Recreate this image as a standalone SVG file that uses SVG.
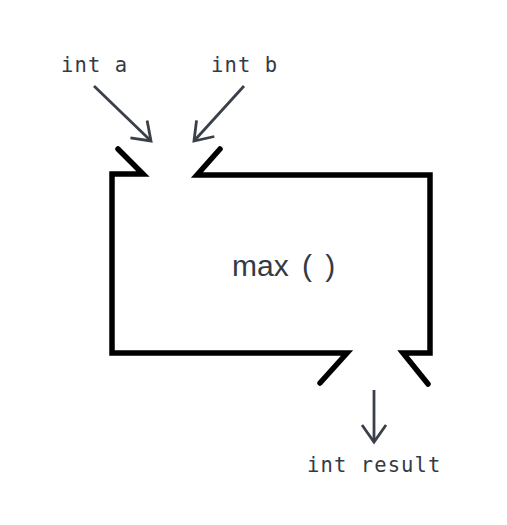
<svg xmlns="http://www.w3.org/2000/svg" width="507" height="525" viewBox="0 0 507 525">
<style>
.box{fill:none;stroke:#000;stroke-width:5.5;stroke-linejoin:miter;stroke-linecap:round}
.arr{fill:none;stroke:#3a404a;stroke-width:2.8;stroke-linecap:butt}
.mono{font-family:"DejaVu Sans Mono","Liberation Mono",monospace;font-size:20.5px;letter-spacing:1.1px;fill:#333a44}
.sans{font-family:"Liberation Sans",Arial,sans-serif;font-size:30px;word-spacing:5px;fill:#333a44}
</style>
<defs>
<marker id="ah" markerWidth="30" markerHeight="30" refX="18" refY="15" orient="auto" markerUnits="userSpaceOnUse" viewBox="0 0 30 30">
<path d="M1,3 L18,15 L1,27" fill="none" stroke="#3a404a" stroke-width="2.8" stroke-linejoin="miter"/>
</marker>
</defs>
<rect width="507" height="525" fill="#fff"/>
<g id="max">
<path class="box" d="M118,149 L143,174 L112,174 L112,353 L347,353 L320,383"/>
<path class="box" d="M220,149 L197,175 L430,175 L430,353 L403,353 L428,384"/>
<text class="sans" x="232" y="276">max ( )</text>
</g>
<g id="int_a"><text class="mono" x="61" y="72">int a</text></g>
<g id="int_b"><text class="mono" x="211" y="72">int b</text></g>
<g id="int_result"><text class="mono" x="307" y="472">int result</text></g>
<g id="connectors">
<line class="arr" x1="94" y1="86" x2="151" y2="141" marker-end="url(#ah)"/>
<line class="arr" x1="244" y1="86" x2="194" y2="141" marker-end="url(#ah)"/>
<line class="arr" x1="374" y1="390" x2="374" y2="442" marker-end="url(#ah)"/>
</g>
</svg>
